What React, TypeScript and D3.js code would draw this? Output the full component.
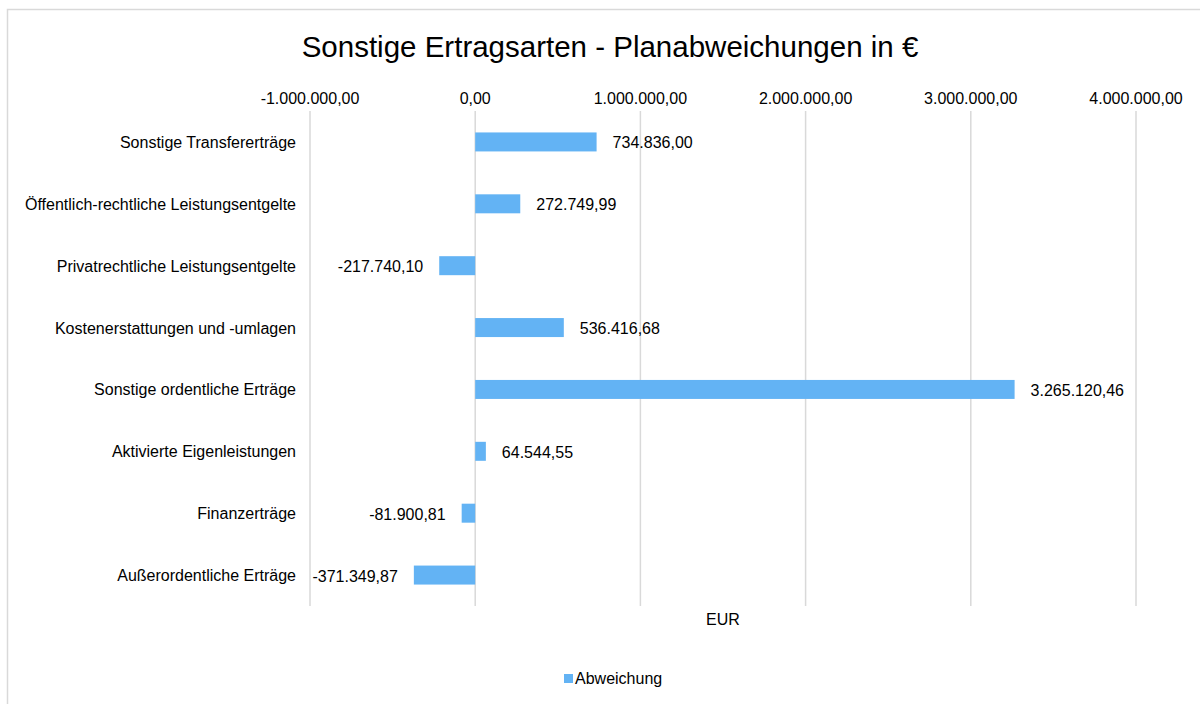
import React from "react";
import * as d3 from "d3";

const categories = [
  "Sonstige Transfererträge",
  "Öffentlich-rechtliche Leistungsentgelte",
  "Privatrechtliche Leistungsentgelte",
  "Kostenerstattungen und -umlagen",
  "Sonstige ordentliche Erträge",
  "Aktivierte Eigenleistungen",
  "Finanzerträge",
  "Außerordentliche Erträge",
];
const values = [734836.0, 272749.99, -217740.1, 536416.68, 3265120.46, 64544.55, -81900.81, -371349.87];
const tickValues = [-1000000, 0, 1000000, 2000000, 3000000, 4000000];
const seriesName = "Abweichung";
const title = "Sonstige Ertragsarten - Planabweichungen in €";
const axisTitle = "EUR";

const W = 1200;
const H = 704;
const FONT = "'Liberation Sans', Arial, sans-serif";
const BAR = "#63b3f4";
const GRID = "#d9d9d9";

const deFormat = d3.formatLocale({
  decimal: ",",
  thousands: ".",
  grouping: [3],
  currency: ["", " €"],
  minus: "-",
});
const fmt = deFormat.format(",.2f");

export default function App() {
  const x = d3.scaleLinear().domain([-1000000, 4000000]).range([310, 1136]);
  const y = d3
    .scaleBand<string>()
    .domain(categories)
    .range([111, 606])
    .paddingInner(0.693)
    .paddingOuter(0.3465);
  const [r0, r1] = y.range();
  return (
    <svg
      width={W}
      height={H}
      style={{ position: "absolute", left: 0, top: 0, background: "#fff" }}
      fontFamily={FONT}
    >
      <rect x={7.5} y={9.5} width={W} height={H} fill="#fff" stroke={GRID} strokeWidth={1.5} />
      <text x={610} y={56.5} textAnchor="middle" fontSize={29.5} fill="#000">
        {title}
      </text>
      {tickValues.map((t) => (
        <g key={t}>
          <line x1={x(t)} x2={x(t)} y1={r0} y2={r1} stroke={GRID} strokeWidth={1.5} />
          <text x={x(t)} y={104} textAnchor="middle" fontSize={16} fill="#000">
            {fmt(t)}
          </text>
        </g>
      ))}
      {categories.map((c, i) => {
        const v = values[i];
        const y0 = y(c)!;
        const bw = y.bandwidth();
        const cy = y0 + bw / 2;
        const x0 = x(Math.min(0, v));
        const x1 = x(Math.max(0, v));
        return (
          <g key={c}>
            <text x={296} y={cy + 6} textAnchor="end" fontSize={16} fill="#000">
              {c}
            </text>
            <rect x={x0} y={y0} width={x1 - x0} height={bw} fill={BAR} />
            <text
              x={v >= 0 ? x1 + 16 : x0 - 16}
              y={cy + 6.5}
              textAnchor={v >= 0 ? "start" : "end"}
              fontSize={16}
              fill="#000"
            >
              {fmt(v)}
            </text>
          </g>
        );
      })}
      <text x={723} y={625} textAnchor="middle" fontSize={16} fill="#000">
        {axisTitle}
      </text>
      <rect x={564} y={674} width={9} height={9} fill={BAR} />
      <text x={575} y={684} fontSize={16} fill="#000">
        {seriesName}
      </text>
    </svg>
  );
}
